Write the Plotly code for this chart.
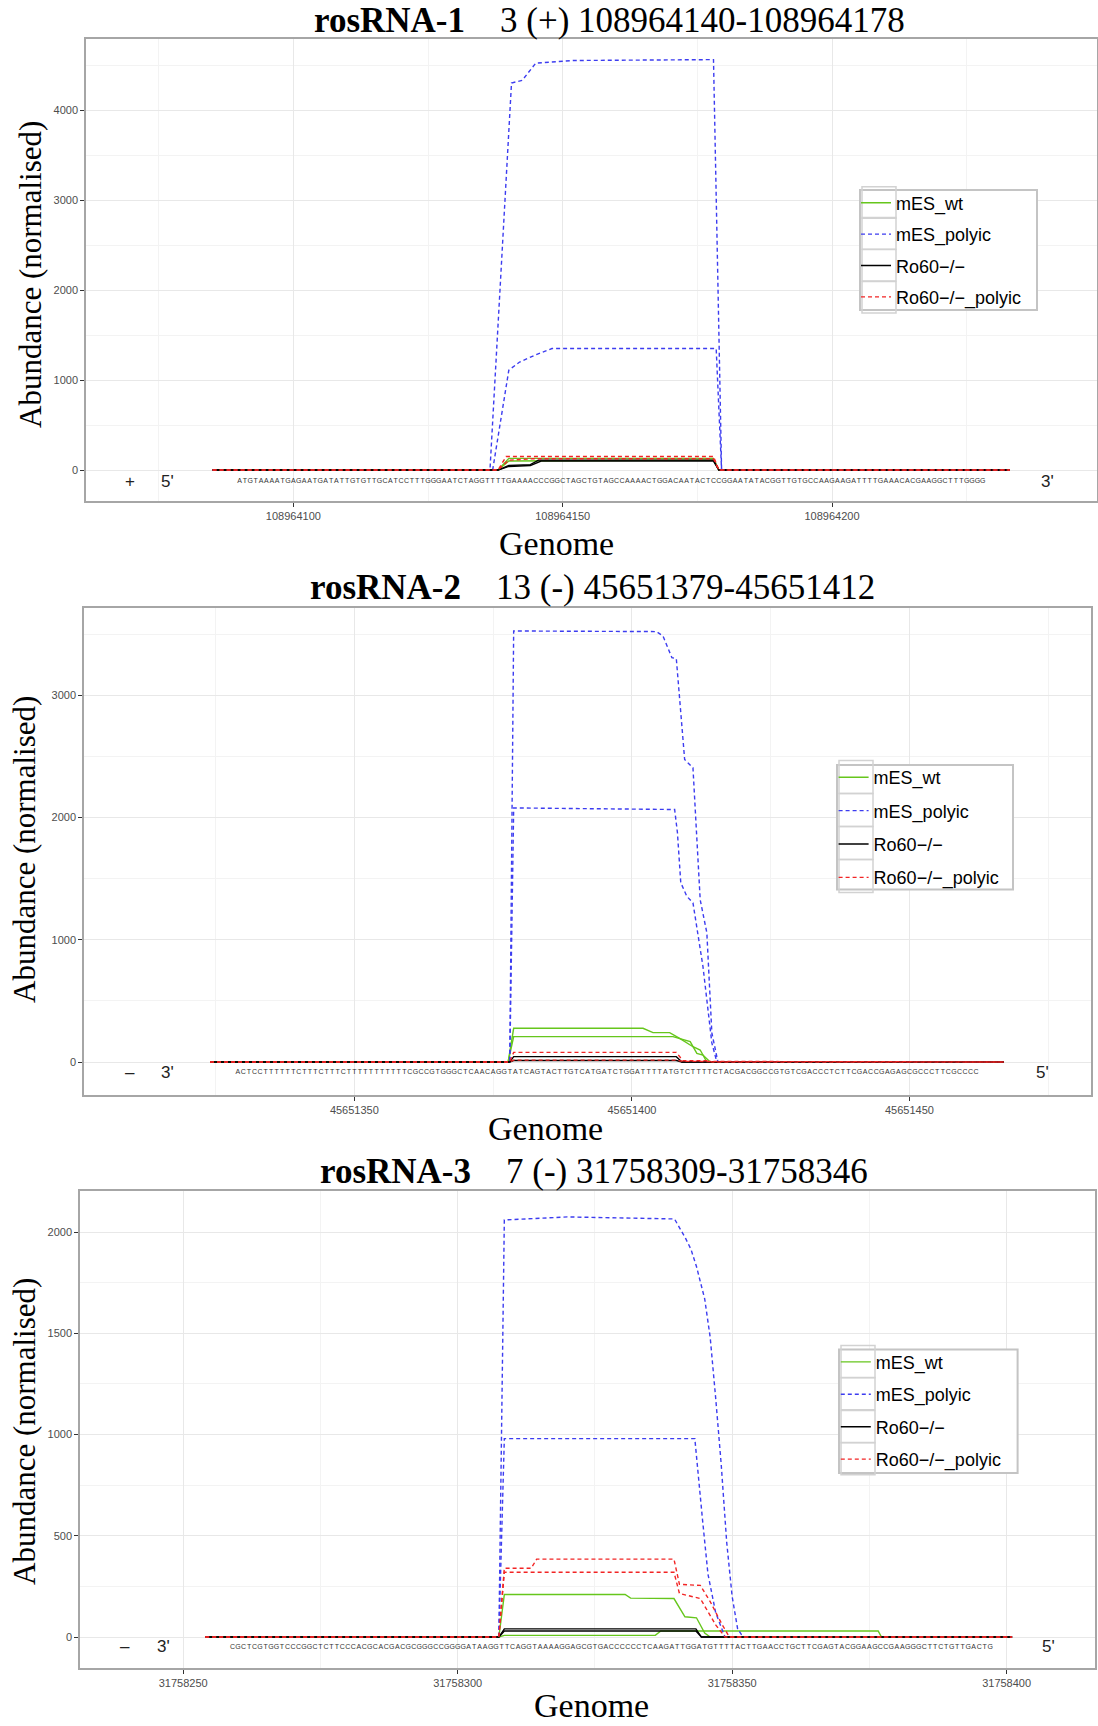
import plotly.graph_objects as go

SANS = "Liberation Sans, Arial, sans-serif"
SERIF = "Liberation Serif, Times New Roman, serif"

# Series shown in every panel (legend order = drawing order)
SERIES = ["mES_wt", "mES_polyic", "Ro60\u2212/\u2212", "Ro60\u2212/\u2212_polyic"]
COLORS = ["#66c61c", "#3c3cf0", "#000000", "#f22424"]
DASHES = ["solid", "4px,3px", "solid", "4px,3px"]

# ---------------- rosRNA-1 : chr3 (+) 108964140-108964178 ----------------
r1_base = 108964000
r1_seq_start = 90
r1_seq = ("ATGTAAAATGAGAATGATATTGTGTTGCATCCTTTGGGAATCTAGGTTTTGAAAACCCGGCTAGC"
          "TGTAGCCAAAACTGGACAATACTCCGGAATATACGGTTGTGCCAAGAAGATTTTGAAACACGAAGGCTTTGGGG")
r1_wt = [
    [(85, 0), (138, 0), (140, 130), (178, 130), (179, 0), (233, 0)],
    [(85, 0), (138, 0), (140, 100), (178, 110), (179, 0), (233, 0)],
]
r1_polyic = [
    [(85, 0), (136.5, 0), (140.5, 4300), (142.5, 4330), (145, 4520), (152, 4550),
     (178, 4560), (179.5, 0), (233, 0)],
    [(85, 0), (137, 0), (140, 1110), (142, 1200), (145, 1280), (148, 1350),
     (178.5, 1350), (179.5, 0), (233, 0)],
]
r1_ko = [
    [(85, 0), (138, 0), (140, 50), (144, 60), (145.5, 110), (178, 110), (179, 0), (233, 0)],
    [(85, 0), (138, 0), (140, 40), (144, 50), (146, 100), (178, 100), (179, 0), (233, 0)],
]
r1_ko_polyic = [
    [(85, 0), (138, 0), (139.5, 150), (178, 150), (179, 0), (233, 0)],
    [(85, 0), (138, 0), (140, 110), (144.5, 125), (178, 125), (179, 0), (233, 0)],
]
r1_xticks = [108964100, 108964150, 108964200]
r1_yticks = [0, 1000, 2000, 3000, 4000]

# ---------------- rosRNA-2 : chr13 (-) 45651379-45651412 ----------------
r2_base = 45651000
r2_seq_start = 329
r2_seq = ("ACTCCTTTTTTCTTTCTTTCTTTTTTTTTTTCGCCGTGGGCTCAACAGGTATCAGTACTTGTCA"
          "TGATCTGGATTTTATGTCTTTTCTACGACGGCCGTGTCGACCCTCTTCGACCGAGAGCGCCCTTCGCCCC")
r2_wt = [
    [(324, 0), (377.7, 0), (378.7, 276), (402, 276), (403.8, 240), (406.8, 240),
     (408.6, 194), (411, 125), (412.3, 98), (413.5, 0), (467, 0)],
    [(324, 0), (377.7, 0), (378.7, 208), (407.4, 208), (410.5, 167), (411.7, 71),
     (412.8, 57), (414.1, 0), (467, 0)],
]
r2_polyic = [
    [(324, 0), (378, 0), (378.7, 3527), (404.4, 3522), (405.6, 3486), (407.2, 3309),
     (408, 3300), (409.5, 2475), (411, 2407), (412.3, 1328), (413.5, 1057),
     (414.4, 238), (415.5, 0), (467, 0)],
    [(324, 0), (378, 0), (378.7, 2079), (407.7, 2066), (408.2, 1877), (408.8, 1467),
     (409.9, 1355), (411, 1303), (412.8, 781), (414.4, 156), (415.3, 0), (467, 0)],
]
r2_ko = [
    [(324, 0), (378, 0), (378.7, 44), (408, 44), (409, 0), (467, 0)],
    [(324, 0), (378, 0), (378.7, 12), (408, 12), (409, 0), (467, 0)],
]
r2_ko_polyic = [
    [(324, 0), (378, 0), (378.7, 79), (408, 79), (409.2, 10), (413.5, 10),
     (414.5, 0), (467, 0)],
    [(324, 0), (378, 0), (378.7, 15), (408, 15), (409.2, 5), (413.5, 5),
     (414.5, 0), (467, 0)],
]
r2_xticks = [45651350, 45651400, 45651450]
r2_yticks = [0, 1000, 2000, 3000]

# ---------------- rosRNA-3 : chr7 (-) 31758309-31758346 ----------------
r3_base = 31758000
r3_seq_start = 259
r3_seq = ("CGCTCGTGGTCCCGGCTCTTCCCACGCACGACGCGGGCCGGGGATAAGGTTCAGGTAAAAGGAGCG"
          "TGACCCCCCTCAAGATTGGATGTTTTACTTGAACCTGCTTCGAGTACGGAAGCCGAAGGGCTTCTGTTGACTG")
r3_wt = [
    [(254, 0), (307.5, 0), (308.5, 210), (330.5, 210), (331.5, 192), (339.4, 190),
     (341.4, 100), (343.5, 95), (345, 20), (346, 0), (401, 0)],
    [(254, 0), (307.5, 0), (308.5, 8), (336, 8), (337, 30), (376.6, 30),
     (377.2, 0), (401, 0)],
]
r3_polyic = [
    [(254, 0), (307.5, 0), (308.5, 2060), (320, 2075), (339.5, 2065), (341.5, 1970),
     (342.5, 1915), (343.5, 1830), (345, 1670), (346, 1480), (347, 1180),
     (348, 855), (349, 470), (350, 200), (351, 40), (352, 0), (401, 0)],
    [(254, 0), (307.5, 0), (308.5, 980), (343.2, 980), (344.6, 580), (345.6, 310),
     (347, 120), (348.7, 0), (401, 0)],
]
r3_ko = [
    [(254, 0), (307.5, 0), (308.5, 40), (343.4, 40), (344.4, 0), (401, 0)],
    [(254, 0), (307.5, 0), (308.5, 30), (343.4, 30), (344.4, 0), (401, 0)],
]
r3_ko_polyic = [
    [(254, 0), (307.5, 0), (308.5, 340), (313.4, 340), (314.4, 385), (339.4, 385),
     (340.4, 260), (344.2, 255), (346, 175), (348.1, 65), (349.5, 0), (401, 0)],
    [(254, 0), (307.5, 0), (308.5, 320), (339.4, 320), (340.4, 215), (342.8, 200),
     (344.2, 190), (347, 60), (348.7, 0), (401, 0)],
]
r3_xticks = [31758250, 31758300, 31758350, 31758400]
r3_yticks = [0, 500, 1000, 1500, 2000]

PANELS = [
    dict(name="rosRNA-1", loc="3 (+) 108964140-108964178", base=r1_base,
         series=[r1_wt, r1_polyic, r1_ko, r1_ko_polyic],
         seq=r1_seq, seq_start=r1_seq_start, xticks=r1_xticks, yticks=r1_yticks,
         strand="+", left_end="5'", right_end="3'",
         xrange=[61.5, 249.2], yrange=[-344, 4789], seq_y=-122,
         strand_x=69.6, left_x=76.7, right_x=240,
         xdom=[86 / 1098, 1097 / 1098], ydom=[1 - 501 / 1726, 1 - 39 / 1726],
         title_xy=(609.6, 20), genome_xy=(556, 543), ylab_xy=(30, 275),
         legend_xy=(856, 184.5), legend_gap=5,
         legend_box=(860, 190, 1037, 310), key_x=(862, 896),
         key_y=[202.5, 233.4, 265.3, 297.2]),
    dict(name="rosRNA-2", loc="13 (-) 45651379-45651412", base=r2_base,
         series=[r2_wt, r2_polyic, r2_ko, r2_ko_polyic],
         seq=r2_seq, seq_start=r2_seq_start, xticks=r2_xticks, yticks=r2_yticks,
         strand="\u2013", left_end="3'", right_end="5'",
         xrange=[301.3, 482.7], yrange=[-270, 3715], seq_y=-82,
         strand_x=309.5, left_x=316.4, right_x=474,
         xdom=[84 / 1098, 1091 / 1098], ydom=[1 - 1095 / 1726, 1 - 608 / 1726],
         title_xy=(592.5, 587), genome_xy=(545, 1128), ylab_xy=(24, 850),
         legend_xy=(833.6, 759), legend_gap=7,
         legend_box=(837, 765, 1013, 889.5), key_x=(839, 873),
         key_y=[777, 810, 843, 876]),
    dict(name="rosRNA-3", loc="7 (-) 31758309-31758346", base=r3_base,
         series=[r3_wt, r3_polyic, r3_ko, r3_ko_polyic],
         seq=r3_seq, seq_start=r3_seq_start, xticks=r3_xticks, yticks=r3_yticks,
         strand="\u2013", left_end="3'", right_end="5'",
         xrange=[231.2, 416.1], yrange=[-153, 2203], seq_y=-49,
         strand_x=239.4, left_x=246.4, right_x=407.7,
         xdom=[80 / 1098, 1095 / 1098], ydom=[1 - 1668 / 1726, 1 - 1191 / 1726],
         title_xy=(593.6, 1171), genome_xy=(591, 1705), ylab_xy=(24, 1432),
         legend_xy=(835.8, 1343.7), legend_gap=6,
         legend_box=(839, 1349.6, 1017.6, 1473), key_x=(841, 875),
         key_y=[1361.7, 1393.6, 1426.6, 1458.6]),
]

W, H = 1098, 1726
fig = go.Figure()
annotations = []
shapes = []
layout = {}


def px(x, y):
    return x / W, 1 - y / H


def label(x, y, text, size, family=SERIF, angle=0):
    ax, ay = px(x, y)
    return dict(x=ax, y=ay, xref="paper", yref="paper", showarrow=False,
                xanchor="center", yanchor="middle", textangle=angle, text=text,
                font=dict(family=family, size=size, color="#000"))


def rect(x0, y0, x1, y1, line, width, fill="rgba(0,0,0,0)"):
    a0, b0 = px(x0, y0)
    a1, b1 = px(x1, y1)
    return dict(type="rect", xref="paper", yref="paper", x0=a0, x1=a1, y0=b1, y1=b0,
                line=dict(color=line, width=width), fillcolor=fill, layer="above")


for i, p in enumerate(PANELS):
    n = "" if i == 0 else str(i + 1)
    xa, ya = "x" + n, "y" + n
    leg = "legend" + n
    base = p["base"]

    for s_idx, reps in enumerate(p["series"]):
        for r_idx, pts in enumerate(reps):
            fig.add_trace(go.Scatter(
                x=[base + a for a, _ in pts], y=[b for _, b in pts],
                mode="lines", name=SERIES[s_idx],
                line=dict(color=COLORS[s_idx], width=1.4, dash=DASHES[s_idx]),
                legend=leg, legendgroup=f"{leg}-{s_idx}",
                showlegend=(r_idx == 0), xaxis=xa, yaxis=ya, hoverinfo="skip"))

    # nucleotide sequence, one letter per genome position
    fig.add_trace(go.Scatter(
        x=[base + p["seq_start"] + k for k in range(len(p["seq"]))],
        y=[p["seq_y"]] * len(p["seq"]), text=list(p["seq"]), mode="text",
        textfont=dict(family=SANS, size=7, color="#333333"),
        showlegend=False, xaxis=xa, yaxis=ya, hoverinfo="skip"))

    for txt, xv in [(p["strand"], p["strand_x"]), (p["left_end"], p["left_x"]),
                    (p["right_end"], p["right_x"])]:
        annotations.append(dict(x=base + xv, y=p["seq_y"], xref=xa, yref=ya, text=txt,
                                xanchor="center", yanchor="middle", showarrow=False,
                                font=dict(family=SANS, size=17, color="#222")))

    annotations.append(label(*p["title_xy"],
                             f"<b>{p['name']}</b>&nbsp;&nbsp;&nbsp;&nbsp;{p['loc']}", 35))
    annotations.append(label(*p["genome_xy"], "Genome", 34))
    annotations.append(label(*p["ylab_xy"], "Abundance (normalised)", 31, angle=-90))

    xstep = p["xticks"][1] - p["xticks"][0]
    ystep = p["yticks"][1] - p["yticks"][0]
    common = dict(showline=True, mirror=True, linecolor="#a6a6a6", linewidth=1.5,
                  ticks="outside", ticklen=4, tickcolor="#333", tickwidth=1,
                  showgrid=True, gridcolor="#e8e8e8", gridwidth=1, zeroline=False,
                  tickfont=dict(family=SANS, size=11, color="#4d4d4d"), tickformat="d")
    layout["xaxis" + n] = dict(
        common, domain=p["xdom"], anchor=ya, range=[base + p["xrange"][0], base + p["xrange"][1]],
        tickmode="array", tickvals=p["xticks"],
        minor=dict(showgrid=True, gridcolor="#f3f3f3", tick0=p["xticks"][0],
                   dtick=xstep / 2))
    layout["yaxis" + n] = dict(
        common, domain=p["ydom"], anchor=xa, range=p["yrange"],
        tickmode="array", tickvals=p["yticks"],
        minor=dict(showgrid=True, gridcolor="#f3f3f3", tick0=0, dtick=ystep / 2))

    # legend frame and the grey key cells behind the legend entries
    bx0, by0, bx1, by1 = p["legend_box"]
    shapes.append(rect(bx0, by0, bx1, by1, "#c4c4c4", 2, fill="white"))
    kx0, kx1 = p["key_x"]
    half = (p["key_y"][-1] - p["key_y"][0]) / 6
    for ky in p["key_y"]:
        shapes.append(rect(kx0, ky - half, kx1, ky + half, "#d2d2d2", 1.5))

    lgx, lgy = px(*p["legend_xy"])
    layout[leg] = dict(x=lgx, y=lgy, xanchor="left", yanchor="top",
                       bgcolor="rgba(0,0,0,0)", borderwidth=0,
                       font=dict(family=SANS, size=18, color="#000"),
                       traceorder="grouped", tracegroupgap=p["legend_gap"], itemwidth=30)

fig.update_layout(
    width=W, height=H, margin=dict(l=0, r=0, t=0, b=0),
    paper_bgcolor="white", plot_bgcolor="white",
    annotations=annotations, shapes=shapes, **layout)

fig.write_html("out.html")
